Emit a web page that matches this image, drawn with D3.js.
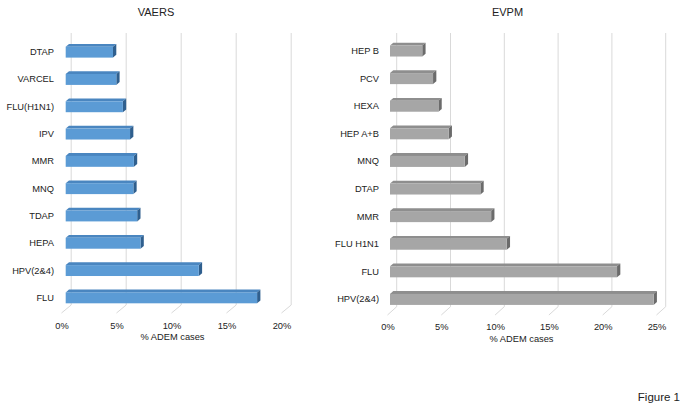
<!DOCTYPE html>
<html><head><meta charset="utf-8">
<script src="https://cdn.jsdelivr.net/npm/d3@7"></script>
<style>
html,body{margin:0;padding:0;background:#fff;}
svg{display:block;font-family:"Liberation Sans",Arial,sans-serif;}
</style></head>
<body>
<svg id="chart" width="686" height="411"></svg>
<script>
const vaersCats = ["DTAP","VARCEL","FLU(H1N1)","IPV","MMR","MNQ","TDAP","HEPA","HPV(2&4)","FLU"];
const vaersVals = [4.3,4.6,5.2,5.85,6.2,6.15,6.5,6.8,12.1,17.4];
const vaersTicks = [0,5,10,15,20];
const evpmCats = ["HEP B","PCV","HEXA","HEP A+B","MNQ","DTAP","MMR","FLU H1N1","FLU","HPV(2&4)"];
const evpmVals = [3.0,4.0,4.5,5.45,6.95,8.4,9.4,10.85,21.1,24.5];
const evpmTicks = [0,5,10,15,20,25];

const svg = d3.select("#chart");
const TXT = "#222";

function panel(cfg){
  const g = svg.append("g");
  const maxT = cfg.ticks[cfg.ticks.length-1];
  const xFront = d3.scaleLinear().domain([0,maxT]).range([cfg.front0, cfg.front0 + cfg.ppu*maxT]);
  const xBack = d3.scaleLinear().domain([0,maxT]).range([cfg.back0, cfg.back0 + cfg.ppu*maxT]);
  const xBar = d3.scaleLinear().domain([0,maxT]).range([cfg.bar0, cfg.bar0 + cfg.ppu*maxT]);
  const y = d3.scaleBand().domain(cfg.cats).range(cfg.yRange).paddingInner(0.6).paddingOuter(0.3);

  g.selectAll("path.grid").data(cfg.ticks).join("path")
    .attr("class","grid")
    .attr("fill","none").attr("stroke","#d9d9d9").attr("stroke-width",1)
    .attr("d", d => `M${xBack(d)},${cfg.gridTop}L${xBack(d)},${cfg.floorBack}L${xFront(d)},${cfg.floorFront}`);

  const dx = 3.3, dy = 2.8;
  const bars = g.selectAll("g.bar").data(cfg.cats.map((c,i)=>({c, v:cfg.vals[i]}))).join("g").attr("class","bar");
  bars.append("path").attr("fill", cfg.top)
    .attr("d", d => { const x0=xBar(0), x1=xBar(d.v), yy=y(d.c);
      return `M${x0},${yy}L${x0+dx},${yy-dy}L${x1+dx},${yy-dy}L${x1},${yy}Z`; });
  bars.append("path").attr("fill", cfg.end)
    .attr("d", d => { const x1=xBar(d.v), yy=y(d.c), h=y.bandwidth();
      return `M${x1},${yy}L${x1+dx},${yy-dy}L${x1+dx},${yy+h-dy}L${x1},${yy+h}Z`; });
  bars.append("rect").attr("fill", cfg.front)
    .attr("x", xBar(0)).attr("y", d=>y(d.c))
    .attr("width", d=>xBar(d.v)-xBar(0)).attr("height", y.bandwidth());

  const ax = g.append("g").attr("transform",`translate(0,${cfg.axisY})`)
    .call(d3.axisBottom(xFront).tickValues(cfg.ticks).tickFormat(d=>d+"%").tickSize(0).tickPadding(cfg.axisPad));
  ax.select(".domain").remove();
  ax.attr("font-size",null).attr("font-family",null);
  ax.selectAll("text").attr("font-size",9.3).attr("fill",TXT);

  const ay = g.append("g").attr("transform",`translate(${cfg.labelX},0)`)
    .call(d3.axisLeft(y).tickSize(0).tickPadding(0));
  ay.select(".domain").remove();
  ay.attr("font-size",null).attr("font-family",null);
  ay.selectAll("text").attr("font-size",9.3).attr("fill",TXT);

  g.append("text").attr("x",cfg.titleX).attr("y",16).attr("text-anchor","middle")
    .attr("font-size",11).attr("fill",TXT).text(cfg.title);
  g.append("text").attr("x",cfg.xTitleX).attr("y",cfg.xTitleY).attr("text-anchor","middle")
    .attr("font-size",9.3).attr("fill",TXT).text("% ADEM cases");
}

panel({cats:vaersCats, vals:vaersVals, ticks:vaersTicks, title:"VAERS",
  front0:61.5, back0:71.2, bar0:65.7, ppu:11,
  yRange:[38.5,311.5], gridTop:33, floorBack:305, floorFront:313,
  axisY:313, axisPad:9, labelX:54, titleX:156, xTitleX:172.5, xTitleY:340,
  front:"#5b9bd5", top:"#4a86c0", end:"#2f5f8e"});

panel({cats:evpmCats, vals:evpmVals, ticks:evpmTicks, title:"EVPM",
  front0:387.5, back0:396.7, bar0:390, ppu:10.76,
  yRange:[37.2,313.2], gridTop:33, floorBack:306.7, floorFront:315,
  axisY:315, axisPad:8.6, labelX:379, titleX:507.5, xTitleX:521.5, xTitleY:342,
  front:"#a6a6a6", top:"#8e8e8e", end:"#6b6b6b"});

svg.append("text").attr("x",680).attr("y",401).attr("text-anchor","end")
  .attr("font-size",11.5).attr("fill",TXT).text("Figure 1");
</script>
</body></html>
